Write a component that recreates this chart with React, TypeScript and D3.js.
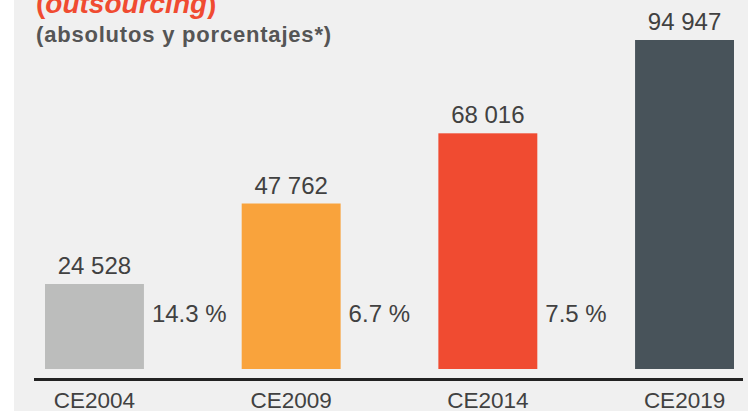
import { useEffect, useRef } from 'react';
import * as d3 from 'd3';

const categories = ['CE2004', 'CE2009', 'CE2014', 'CE2019'];
const values = [24528, 47762, 68016, 94947];
const growthRates = [14.3, 6.7, 7.5];
const barColors = ['#bcbdbc', '#f9a33c', '#f04b31', '#48535a'];

export default function App() {
  const svgRef = useRef<SVGSVGElement>(null);

  useEffect(() => {
    if (!svgRef.current) return;

    const svg = d3.select(svgRef.current);
    svg.selectAll('*').remove();

    const width = 748;
    const height = 411;
    const font = '"Liberation Sans", Arial, Helvetica, sans-serif';
    const textColor = '#414141';

    // background panel
    svg.append('rect')
      .attr('x', 14)
      .attr('y', 0)
      .attr('width', width - 14)
      .attr('height', height)
      .attr('fill', '#f0f0f0');

    // Scales
    const x = d3.scaleBand<string>()
      .domain(categories)
      .range([45, 734])
      .paddingInner(0.497)
      .paddingOuter(0);

    const y = d3.scaleLinear()
      .domain([0, d3.max(values) || 0])
      .range([369, 40]);

    const fmt = d3.formatLocale({ decimal: '.', thousands: ' ', grouping: [3], currency: ['', ''] }).format(',');

    // Title (top part is cropped, as in the source)
    const title = svg.append('text')
      .attr('x', 36)
      .attr('y', 13)
      .style('font-family', font)
      .style('font-size', '28px')
      .style('font-weight', 'bold')
      .style('fill', '#f04b31');
    title.append('tspan').text('(');
    title.append('tspan').style('font-style', 'italic').text('outsourcing');
    title.append('tspan').text(')');

    svg.append('text')
      .attr('x', 36)
      .attr('y', 42)
      .style('font-family', font)
      .style('font-size', '22px')
      .style('font-weight', 'bold')
      .style('letter-spacing', '0.8px')
      .style('fill', '#555555')
      .text('(absolutos y porcentajes*)');

    const data = categories.map((c, i) => ({ cat: c, value: values[i], color: barColors[i] }));

    // Bars
    svg.append('g')
      .selectAll('rect')
      .data(data)
      .join('rect')
      .attr('x', d => x(d.cat)!)
      .attr('y', d => y(d.value))
      .attr('width', x.bandwidth())
      .attr('height', d => y(0) - y(d.value))
      .attr('fill', d => d.color);

    // Value labels
    svg.append('g')
      .selectAll('text')
      .data(data)
      .join('text')
      .attr('x', d => x(d.cat)! + x.bandwidth() / 2)
      .attr('y', d => y(d.value) - 10)
      .attr('text-anchor', 'middle')
      .style('font-family', font)
      .style('font-size', '24px')
      .style('fill', textColor)
      .text(d => fmt(d.value));

    // Growth rates between bars
    svg.append('g')
      .selectAll('text')
      .data(growthRates)
      .join('text')
      .attr('x', (d, i) => x(categories[i])! + x.bandwidth() + 8)
      .attr('y', y(0) - 47)
      .style('font-family', font)
      .style('font-size', '24px')
      .style('fill', textColor)
      .text(d => `${d.toFixed(1)} %`);

    // Baseline
    svg.append('line')
      .attr('x1', x.range()[0] - 11)
      .attr('x2', x.range()[1] + 9)
      .attr('y1', 379.5)
      .attr('y2', 379.5)
      .attr('stroke', '#222222')
      .attr('stroke-width', 3);

    // Category labels
    svg.append('g')
      .selectAll('text')
      .data(categories)
      .join('text')
      .attr('x', d => x(d)! + x.bandwidth() / 2)
      .attr('y', 408)
      .attr('text-anchor', 'middle')
      .style('font-family', font)
      .style('font-size', '22.5px')
      .style('fill', textColor)
      .text(d => d);
  }, []);

  return (
    <svg
      ref={svgRef}
      width="748"
      height="411"
      style={{ position: 'absolute', left: 0, top: 0, display: 'block' }}
    ></svg>
  );
}
